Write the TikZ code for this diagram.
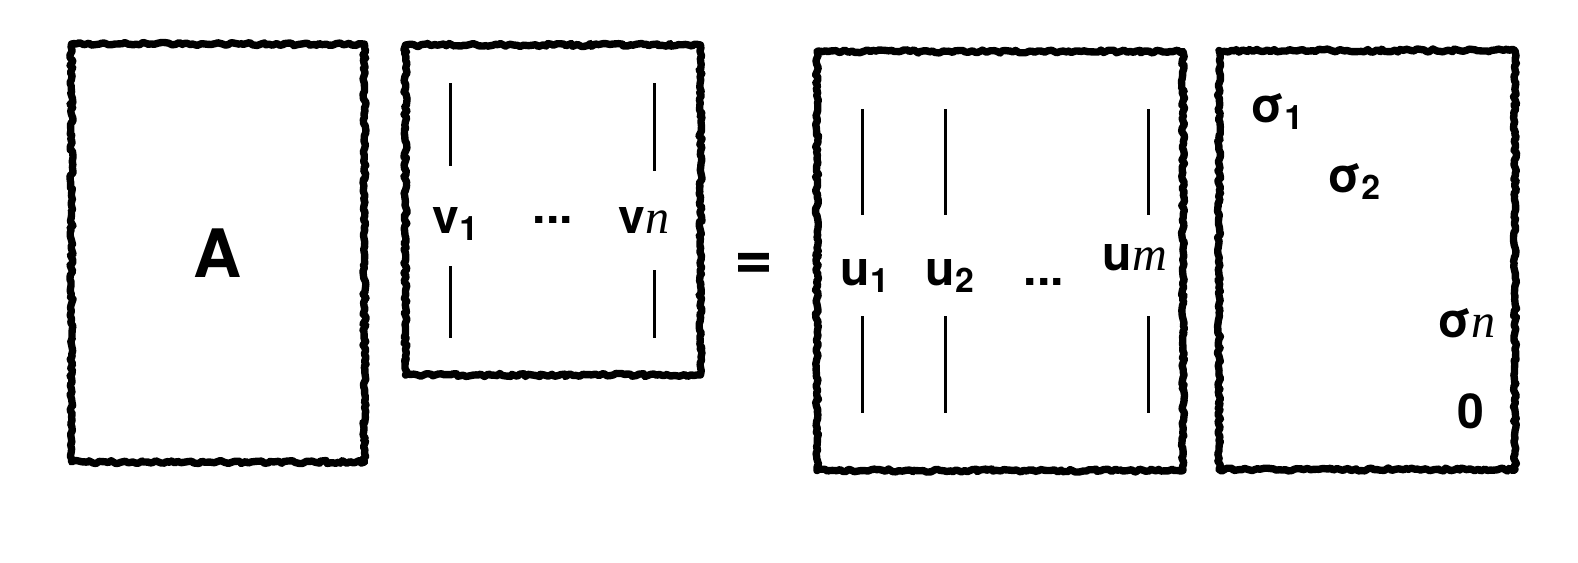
\documentclass[tikz,border=0pt]{standalone}
\usepackage{fontspec}
\setmainfont{TeX Gyre Heros}
\newfontfamily\itfont{Liberation Serif}
\usetikzlibrary{decorations.pathmorphing}
\newcommand{\iv}[1]{{\itfont\mdseries\itshape #1}}
\begin{document}
\begin{tikzpicture}[x=0.1mm,y=-0.1mm,
	mbox/.style={draw=black,line width=2.1pt,line join=round,decorate,decoration={random steps,segment length=0.9pt,amplitude=0.45pt},inner sep=0pt},
	lbl/.style={anchor=base west,inner sep=0pt,font=\fontsize{13.7}{16}\selectfont\bfseries},
	bar/.style={line width=0.85pt}]

			\useasboundingbox (0,0) rectangle (1578,562);

			\node[mbox,minimum width=29.3mm,minimum height=41.8mm,font=\fontsize{19}{22}\selectfont\bfseries] (A) at (218,253) {A};
			\node[mbox,minimum width=29.5mm,minimum height=33mm] (V) at (553,210) {};
			\node[mbox,minimum width=36.6mm,minimum height=41.9mm] (U) at (1000,261) {};
			\node[mbox,minimum width=29.6mm,minimum height=41.9mm] (S) at (1367,260) {};

			\node[inner sep=0pt,font=\fontsize{19}{22}\selectfont\bfseries] (eq) at (754,266) {=};

			\node[lbl] (v1) at (432,233) {v\textsubscript{1}};
			\node[lbl] (vd) at (532,233) {\raisebox{1mm}{...}};
			\node[lbl] (vn) at (618,233) {v\iv{n}};

			\node[lbl] (u1) at (840,285) {u\textsubscript{1}};
			\node[lbl] (u2) at (925,285) {u\textsubscript{2}};
			\node[lbl] (ud) at (1023,285) {...};
			\node[lbl] (um) at (1102,270) {u\iv{m}};

			\node[lbl] (s1) at (1250,122) {σ\textsubscript{1}};
			\node[lbl] (s2) at (1327,192) {σ\textsubscript{2}};
			\node[lbl] (sn) at (1437,337) {σ\iv{n}};
			\node[lbl] (s0) at (1457,428) {0};

			\draw[bar] (450,83) -- (450,166);
			\draw[bar] (450,266) -- (450,338);
			\draw[bar] (654,83) -- (654,171);
			\draw[bar] (654,270) -- (654,338);
			\foreach \x in {862,945,1148}{
				\draw[bar] (\x,109) -- (\x,215);
				\draw[bar] (\x,316) -- (\x,413);
			}
		\end{tikzpicture}
\end{document}
